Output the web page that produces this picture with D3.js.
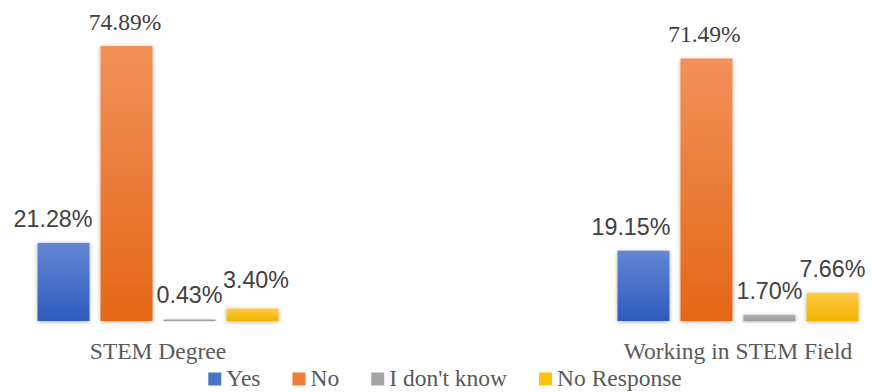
<!DOCTYPE html>
<html><head><meta charset="utf-8">
<script src="https://cdn.jsdelivr.net/npm/d3@7"></script>
<style>body{margin:0;background:#fff}svg{display:block}</style>
</head><body>
<svg id="chart" width="872" height="392"></svg>
<script>
const categories = ["STEM Degree", "Working in STEM Field"];
const seriesNames = ["Yes", "No", "I don't know", "No Response"];
const yesValues = [21.28, 19.15];
const noValues = [74.89, 71.49];
const dontKnowValues = [0.43, 1.70];
const noResponseValues = [3.40, 7.66];
const seriesValues = [yesValues, noValues, dontKnowValues, noResponseValues];

// styling / layout (not data)
const gradTop = ["#6486d3", "#f2915a", "#b2b2b2", "#ffca45"];
const gradBot = ["#2d5bbd", "#e46716", "#9a9a9a", "#f0b300"];
const legendColors = ["#4a74c8", "#ef7d34", "#a5a5a5", "#ffc20a"];
const labelFonts = [["sans","sans"],["serif","serif"],["sans","sans"],["sans","sans"]];
const labelDx = [[-10.5,-12.5],[-1.5,-2],[0,0],[3.5,0]];
const labelDy = [[0,0],[0,0],[0,0],[-5,0]];

const svg = d3.select("#chart");
const baseY = 321;
const x0 = d3.scaleBand().domain(categories).range([13, 883]).paddingInner(0.5655).paddingOuter(0.0328);
const x1 = d3.scaleBand().domain(seriesNames).range([0, x0.bandwidth()]).paddingInner(0.1746).paddingOuter(0.0873);
const y = d3.scaleLinear().domain([0, 80]).range([baseY, baseY - 80 * 3.672]);

const defs = svg.append("defs");
seriesNames.forEach((s, i) => {
  const g = defs.append("linearGradient").attr("id", "g" + i).attr("x1", 0).attr("y1", 0).attr("x2", 0).attr("y2", 1);
  g.append("stop").attr("offset", "0%").attr("stop-color", gradTop[i]);
  g.append("stop").attr("offset", "100%").attr("stop-color", gradBot[i]);
});
const f = defs.append("filter").attr("id", "shadow").attr("x", "-30%").attr("y", "-30%").attr("width", "160%").attr("height", "160%");
f.append("feDropShadow").attr("dx", 0).attr("dy", 1).attr("stdDeviation", 2.2).attr("flood-color", "#000").attr("flood-opacity", 0.32);

// axis line
svg.append("line").attr("x1", 13).attr("x2", 872).attr("y1", baseY + 1).attr("y2", baseY + 1)
  .attr("stroke", "#d4d4d4").attr("stroke-width", 2.5).attr("filter", "url(#shadow)");

const groups = svg.selectAll("g.grp").data(categories).join("g").attr("class", "grp")
  .attr("transform", d => `translate(${x0(d)},0)`);

groups.each(function(cat, ci) {
  const g = d3.select(this);
  seriesNames.forEach((s, si) => {
    const v = seriesValues[si][ci];
    g.append("rect").attr("x", x1(s)).attr("width", x1.bandwidth())
      .attr("y", y(v)).attr("height", baseY - y(v))
      .attr("fill", `url(#g${si})`).attr("filter", "url(#shadow)");
  });
});

groups.each(function(cat, ci) {
  const g = d3.select(this);
  seriesNames.forEach((s, si) => {
    const v = seriesValues[si][ci];
    const serif = labelFonts[si][ci] === "serif";
    g.append("text").attr("x", x1(s) + x1.bandwidth() / 2 + labelDx[si][ci])
      .attr("y", y(v) - 16 + labelDy[si][ci])
      .attr("text-anchor", "middle")
      .attr("font-family", serif ? "'Liberation Serif', 'Times New Roman', serif" : "'Liberation Sans', Arial, sans-serif")
      .attr("font-size", serif ? "23.5px" : "23.3px")
      .attr("fill", "#404040")
      .text(v.toFixed(2) + "%");
  });
  g.append("text").attr("x", x0.bandwidth() / 2).attr("y", 358.5)
    .attr("text-anchor", "middle")
    .attr("font-family", "'Liberation Serif', 'Times New Roman', serif")
    .attr("font-size", "23.5px").attr("fill", "#595959").text(cat);
});

// legend
const leg = svg.append("g");
let lx = 0;
const items = [];
seriesNames.forEach((s, i) => {
  const it = leg.append("g");
  it.append("rect").attr("x", 0).attr("y", 372.5).attr("width", 13).attr("height", 13).attr("fill", legendColors[i]);
  const t = it.append("text").attr("x", 18).attr("y", 386)
    .attr("font-family", "'Liberation Serif', 'Times New Roman', serif")
    .attr("font-size", "23.5px").attr("fill", "#595959").text(s);
  const w = 18 + t.node().getComputedTextLength();
  it.attr("transform", `translate(${lx},0)`);
  lx += w + 32;
});
const totalW = lx - 32;
leg.attr("transform", `translate(${445 - totalW / 2},0)`);
</script>
</body></html>
